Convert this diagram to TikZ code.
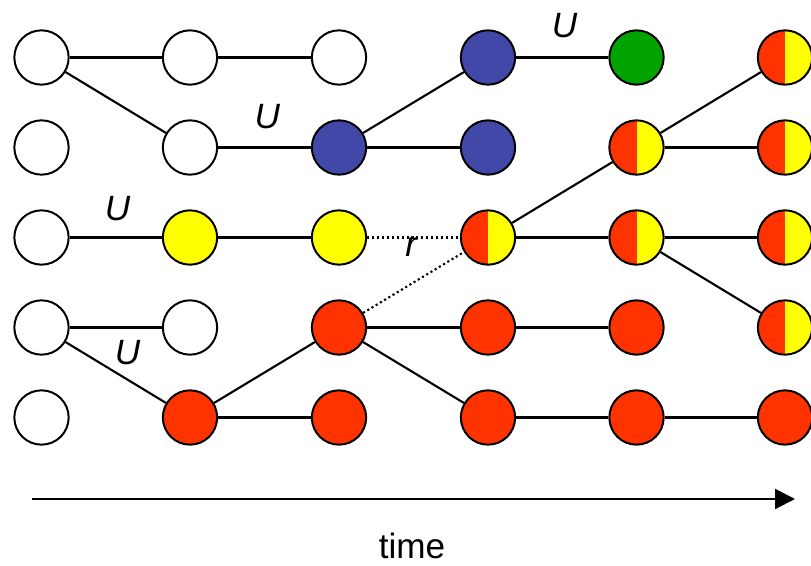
\documentclass[tikz,border=0pt]{standalone}
\usepackage{fontspec}
\setmainfont{Liberation Sans}
\usetikzlibrary{arrows.meta}
\definecolor{cellred}{RGB}{255,51,0}
\definecolor{cellyellow}{RGB}{255,255,0}
\definecolor{cellblue}{RGB}{66,72,168}
\definecolor{cellgreen}{RGB}{0,163,0}

\begin{document}
\begin{tikzpicture}[x=0.03cm,y=-0.03cm,
  cell/.style={circle, draw, line width=1.7pt, minimum size=1.63cm, inner sep=0pt},
  blank/.style={cell, fill=white},
  redcell/.style={cell, fill=cellred},
  yellowcell/.style={cell, fill=cellyellow},
  bluecell/.style={cell, fill=cellblue},
  greencell/.style={cell, fill=cellgreen},
  halfcell/.style={cell, fill=cellyellow, path picture={\fill[cellred] (path picture bounding box.south west) rectangle (path picture bounding box.north);}},
  link/.style={line width=1.8pt},
  lbl/.style={font=\fontsize{30}{36}\selectfont\itshape, inner sep=0pt}]
\useasboundingbox (0,0) rectangle (811,566);

% column 0
\node[blank] (c0r0) at (41.5,57.5) {};
\node[blank] (c0r1) at (41.5,147.5) {};
\node[blank] (c0r2) at (41.5,237.5) {};
\node[blank] (c0r3) at (41.5,327.5) {};
\node[blank] (c0r4) at (41.5,417.5) {};
% column 1
\node[blank] (c1r0) at (190,57.5) {};
\node[blank] (c1r1) at (190,147.5) {};
\node[yellowcell] (c1r2) at (190,237.5) {};
\node[blank] (c1r3) at (190,327.5) {};
\node[redcell] (c1r4) at (190,417.5) {};
% column 2
\node[blank] (c2r0) at (339,57.5) {};
\node[bluecell] (c2r1) at (339,147.5) {};
\node[yellowcell] (c2r2) at (339,237.5) {};
\node[redcell] (c2r3) at (339,327.5) {};
\node[redcell] (c2r4) at (339,417.5) {};
% column 3
\node[bluecell] (c3r0) at (488,57.5) {};
\node[bluecell] (c3r1) at (488,147.5) {};
\node[halfcell] (c3r2) at (488,237.5) {};
\node[redcell] (c3r3) at (488,327.5) {};
\node[redcell] (c3r4) at (488,417.5) {};
% column 4
\node[greencell] (c4r0) at (636.5,57.5) {};
\node[halfcell] (c4r1) at (636.5,147.5) {};
\node[halfcell] (c4r2) at (636.5,237.5) {};
\node[redcell] (c4r3) at (636.5,327.5) {};
\node[redcell] (c4r4) at (636.5,417.5) {};
% column 5
\node[halfcell] (c5r0) at (785,57.5) {};
\node[halfcell] (c5r1) at (785,147.5) {};
\node[halfcell] (c5r2) at (785,237.5) {};
\node[halfcell] (c5r3) at (785,327.5) {};
\node[redcell] (c5r4) at (785,417.5) {};

% links
\draw[link] (c0r0) -- (c1r0);
\draw[link] (c0r0) -- (c1r1);
\draw[link] (c1r0) -- (c2r0);
\draw[link] (c1r1) -- node[lbl, xshift=2.5pt, yshift=26.5pt] {U} (c2r1);
\draw[link] (c2r1) -- (c3r0);
\draw[link] (c2r1) -- (c3r1);
\draw[link] (c3r0) -- node[lbl, xshift=2pt, yshift=27pt] {U} (c4r0);
\draw[link] (c0r2) -- node[lbl, xshift=1.5pt, yshift=25pt] {U} (c1r2);
\draw[link] (c1r2) -- (c2r2);
\draw[link, dash pattern=on 1.8pt off 2.4pt] (c2r2) -- node[lbl, xshift=-2pt, yshift=-8pt] {r} (c3r2);
\draw[link, dash pattern=on 1.8pt off 2.4pt] (c2r3) -- (c3r2);
\draw[link] (c3r2) -- (c4r1);
\draw[link] (c3r2) -- (c4r2);
\draw[link] (c4r1) -- (c5r0);
\draw[link] (c4r1) -- (c5r1);
\draw[link] (c4r2) -- (c5r2);
\draw[link] (c4r2) -- (c5r3);
\draw[link] (c0r3) -- (c1r3);
\draw[link] (c0r3) -- node[lbl, xshift=10pt, yshift=17pt] {U} (c1r4);
\draw[link] (c1r4) -- (c2r3);
\draw[link] (c1r4) -- (c2r4);
\draw[link] (c2r3) -- (c3r3);
\draw[link] (c2r3) -- (c3r4);
\draw[link] (c3r3) -- (c4r3);
\draw[link] (c3r4) -- (c4r4);
\draw[link] (c4r4) -- (c5r4);

% time axis
\coordinate (tstart) at (32,499);
\coordinate (tend) at (795,499);
\draw[link, -{Triangle[length=0.6cm, width=0.6cm]}] (tstart) -- (tend);
\node[font=\fontsize{30}{36}\selectfont, inner sep=0pt] (timelbl) at (412,546) {time};
\end{tikzpicture}
\end{document}
